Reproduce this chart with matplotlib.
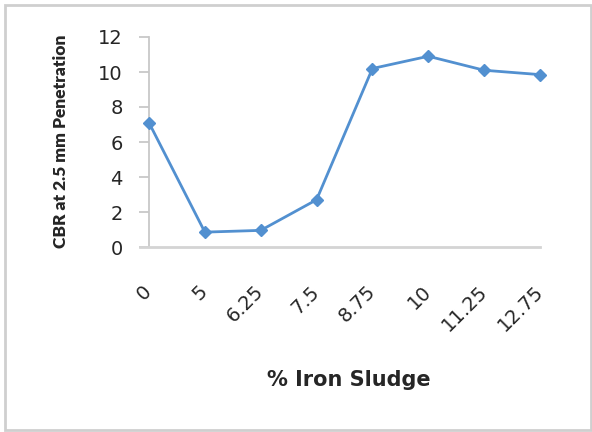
import matplotlib.pyplot as plt
from matplotlib.patches import Rectangle

# Data
sludge_pct = ['0', '5', '6.25', '7.5', '8.75', '10', '11.25', '12.75']
cbr_values = [7.1, 0.85, 0.95, 2.7, 10.2, 10.9, 10.1, 9.85]

LINE_COLOR = '#5290D0'
AXIS_COLOR = '#C8C8C8'
TEXT_COLOR = '#262626'

plt.rcParams['font.family'] = ['DejaVu Sans']

fig = plt.figure(figsize=(5.92, 4.32), dpi=100)
ax = fig.add_axes([149 / 592, 1 - 247 / 432, 391 / 592, 210 / 432])

# --- Outer chart border ---
fig.patches.append(Rectangle((5 / 592, 2 / 432), 586 / 592, 425 / 432,
                             transform=fig.transFigure, fill=False,
                             edgecolor='#CFCFCF', linewidth=2))

# --- Series ---
x = list(range(len(sludge_pct)))
ax.plot(x, cbr_values, color=LINE_COLOR, linewidth=2, marker='D',
        markersize=6, markerfacecolor=LINE_COLOR, markeredgecolor=LINE_COLOR,
        clip_on=False, zorder=5)

# --- Axes styling ---
ax.set_xlim(0, len(sludge_pct) - 1)
ax.set_ylim(0, 12)
ax.set_yticks([0, 2, 4, 6, 8, 10, 12])
ax.set_xticks(x)
ax.set_xticklabels(sludge_pct, rotation=45, ha='right', va='center',
                   rotation_mode='anchor')

for side in ['top', 'right']:
    ax.spines[side].set_visible(False)
ax.spines['left'].set_color(AXIS_COLOR)
ax.spines['bottom'].set_color('#D4D4D4')
ax.spines['left'].set_linewidth(1.3)
ax.spines['bottom'].set_linewidth(2)
ax.spines['bottom'].set_bounds(-0.17, len(sludge_pct) - 1)
ax.spines['bottom'].set_clip_on(False)

ax.tick_params(axis='y', length=7, width=1.3, color=AXIS_COLOR,
               labelsize=14, pad=12, labelcolor=TEXT_COLOR)
ax.tick_params(axis='x', length=0, labelsize=14, pad=30, labelcolor=TEXT_COLOR)

ax.set_ylabel('CBR at 2.5 mm Penetration', fontsize=12.5, fontweight='heavy',
              color=TEXT_COLOR, family=['Lato', 'DejaVu Sans'])
ax.yaxis.set_label_coords(-0.205, 0.505)
ax.set_xlabel('% Iron Sludge', fontsize=15, fontweight='bold', color=TEXT_COLOR)
ax.xaxis.set_label_coords(0.51, -0.585)

plt.savefig('out.png', dpi=100)
